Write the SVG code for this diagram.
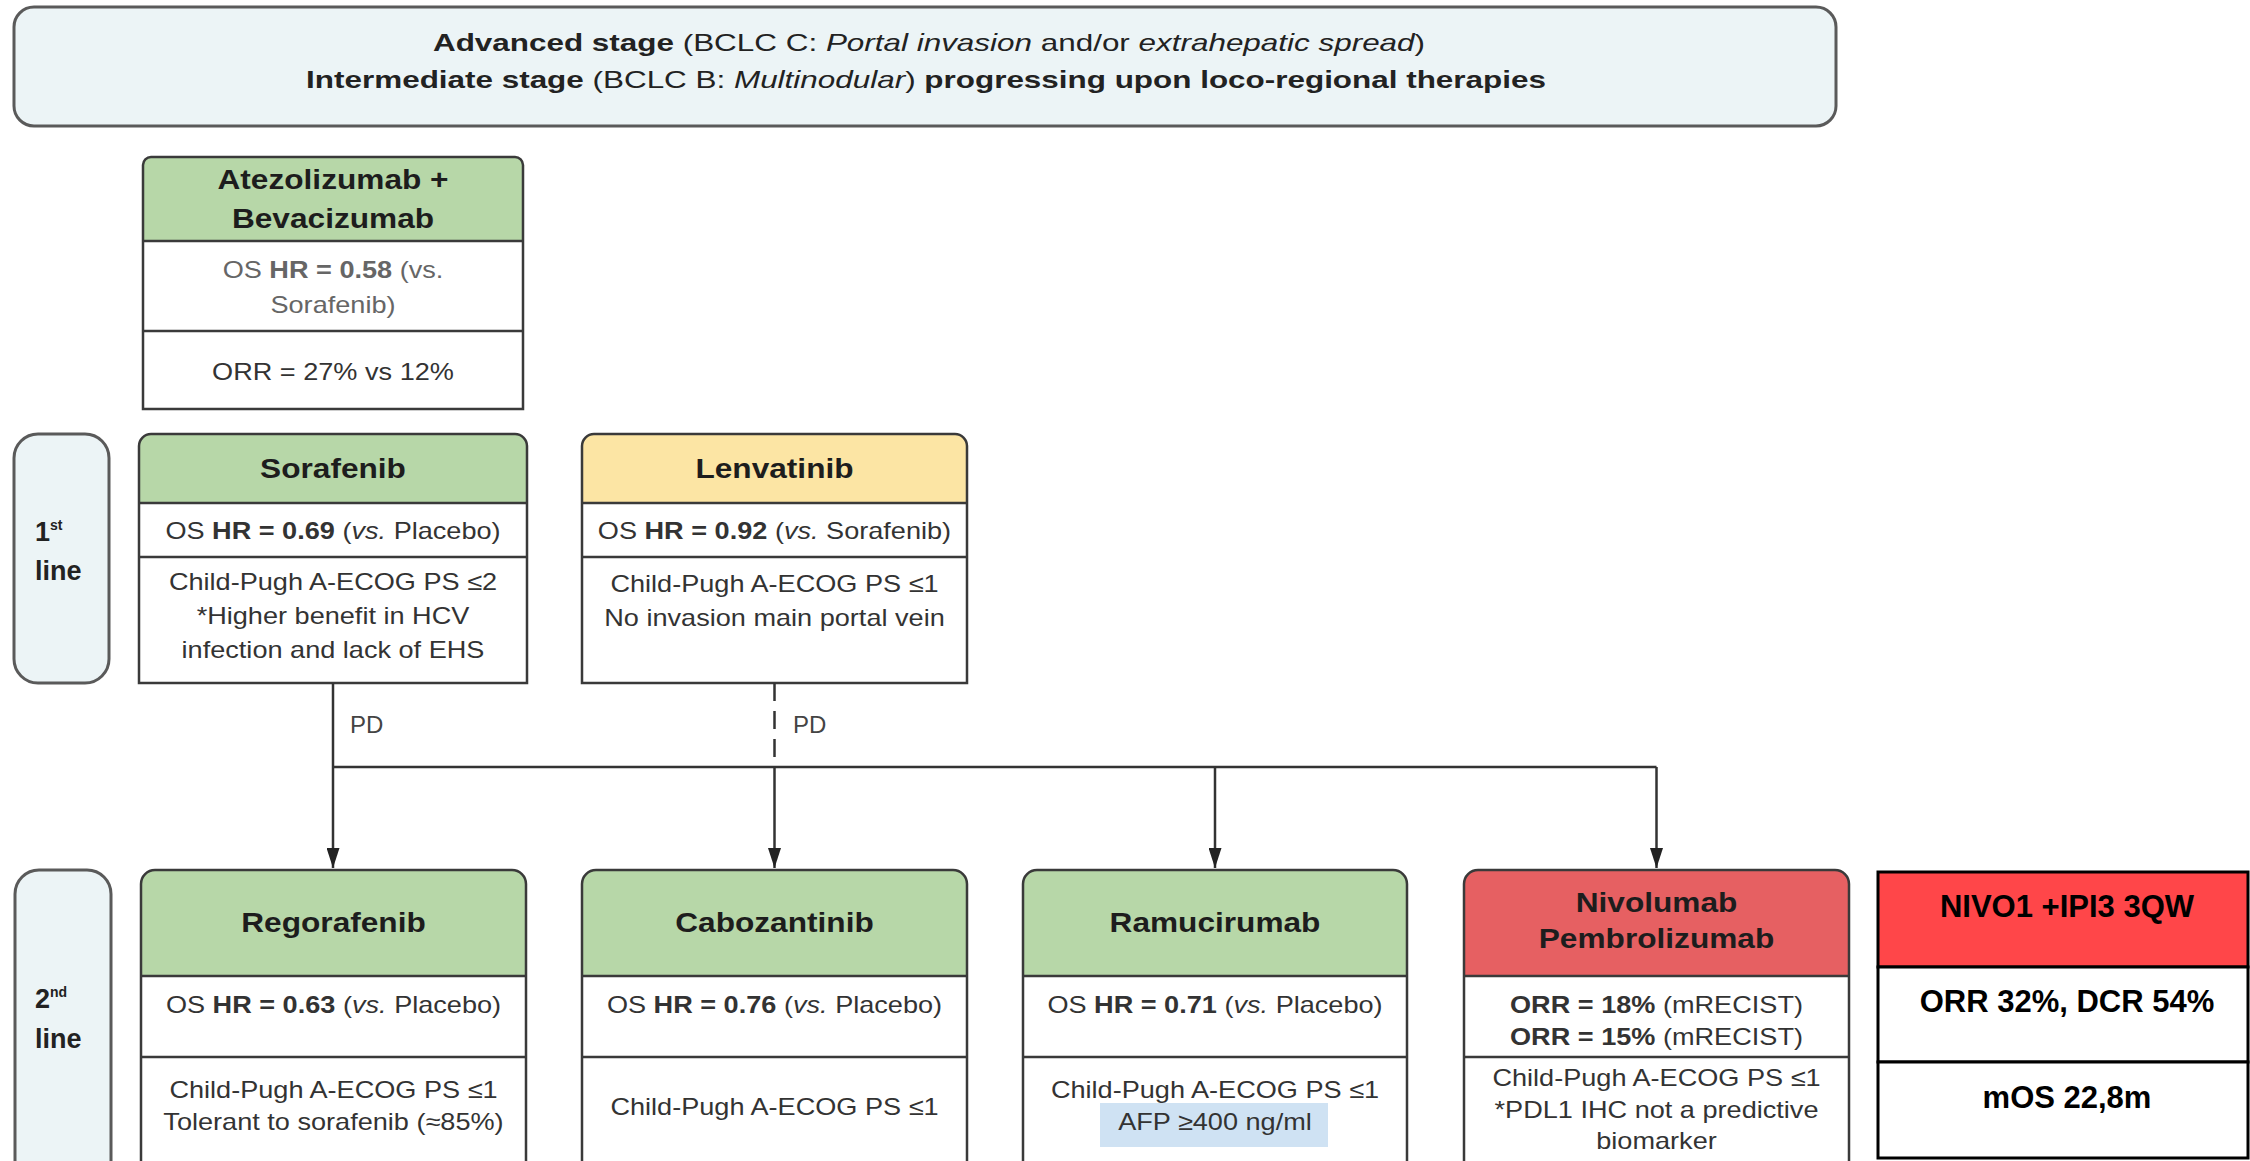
<svg xmlns="http://www.w3.org/2000/svg" width="2250" height="1161" viewBox="0 0 2250 1161">
<style>
text{font-family:"Liberation Sans",Arial,sans-serif}
.banner{fill:#ecf4f6;stroke:#5a5a5a;stroke-width:3}
.lab{fill:#ecf4f6;stroke:#5a5a5a;stroke-width:3}
.box{fill:#fff}
.hg{fill:#b7d7a8}
.hy{fill:#fce5a4}
.hr{fill:#e66062}
.frame{fill:none;stroke:#3a3a3a;stroke-width:2.5}
.div{stroke:#3a3a3a;stroke-width:2.5}
.h{font-weight:bold;font-size:28px;fill:#1d1d1d;text-anchor:middle}
.t{font-size:24px;fill:#333;text-anchor:middle}
.g{fill:#666}
.bt{font-size:24px;fill:#222;text-anchor:middle}
.lt{font-size:27px;font-weight:bold;fill:#222}
.pd{font-size:24px;fill:#444}
.b{font-weight:bold}
.i{font-style:italic}
.conn{stroke:#333;stroke-width:2.5;fill:none}
.tbl{fill:#fff;stroke:#000;stroke-width:3}
.tt{font-size:31px;font-weight:bold;fill:#000;text-anchor:middle}
</style>
<defs>
<marker id="arr" markerUnits="userSpaceOnUse" markerWidth="20" markerHeight="13" refX="20" refY="6.5" orient="auto">
<path d="M0,0 L20,6.5 L0,13 Z" fill="#222"/>
</marker>
</defs>

<g id="banner">
<rect class="banner" x="14" y="7" width="1822" height="119" rx="20"/>
<g transform="translate(929,0) scale(1.31,1)">
<text class="bt" x="0" y="51"><tspan class="b">Advanced stage</tspan> (BCLC C: <tspan class="i">Portal invasion</tspan> and/or <tspan class="i">extrahepatic spread</tspan>)</text>
</g>
<g transform="translate(926,0) scale(1.31,1)">
<text class="bt" x="0" y="88"><tspan class="b">Intermediate stage</tspan> (BCLC B: <tspan class="i">Multinodular</tspan>)<tspan class="b"> progressing upon loco-regional therapies</tspan></text>
</g>
</g>

<g id="label-1st">
<rect class="lab" x="14" y="434" width="95" height="249" rx="24"/>
<text class="lt" x="35" y="541">1<tspan font-size="14" dy="-11">st</tspan></text>
<text class="lt" x="35" y="580">line</text>
</g>

<g id="label-2nd">
<rect class="lab" x="15" y="870" width="96" height="320" rx="24"/>
<text class="lt" x="35" y="1008">2<tspan font-size="14" dy="-11">nd</tspan></text>
<text class="lt" x="35" y="1048">line</text>
</g>

<g id="atezolizumab">
<rect class="box" x="143" y="157" width="380" height="252"/>
<path class="hg" d="M143,241 V165 A8,8 0 0 1 151,157 H515 A8,8 0 0 1 523,165 V241 Z"/>
<line class="div" x1="143" y1="241" x2="523" y2="241"/>
<line class="div" x1="143" y1="331" x2="523" y2="331"/>
<path class="frame" d="M143,409 V165 A8,8 0 0 1 151,157 H515 A8,8 0 0 1 523,165 V409 Z"/>
<g transform="translate(333,0) scale(1.13,1)">
<text class="h" x="0" y="189">Atezolizumab +</text>
<text class="h" x="0" y="228">Bevacizumab</text>
<text class="t g" x="0" y="278" font-size="23">OS <tspan class="b">HR = 0.58</tspan> (vs.</text>
<text class="t g" x="0" y="313" font-size="23">Sorafenib)</text>
<text class="t" x="0" y="380" font-size="22">ORR = 27% vs 12%</text>
</g>
</g>

<g id="sorafenib">
<rect class="box" x="139" y="434" width="388" height="249"/>
<path class="hg" d="M139,503 V446 A12,12 0 0 1 151,434 H515 A12,12 0 0 1 527,446 V503 Z"/>
<line class="div" x1="139" y1="503" x2="527" y2="503"/>
<line class="div" x1="139" y1="557" x2="527" y2="557"/>
<path class="frame" d="M139,683 V446 A12,12 0 0 1 151,434 H515 A12,12 0 0 1 527,446 V683 Z"/>
<g transform="translate(333,0) scale(1.13,1)">
<text class="h" x="0" y="478">Sorafenib</text>
<text class="t" x="0" y="539">OS <tspan class="b">HR = 0.69</tspan> (<tspan class="i">vs.</tspan> Placebo)</text>
<text class="t" x="0" y="590">Child-Pugh A-ECOG PS ≤2</text>
<text class="t" x="0" y="624">*Higher benefit in HCV</text>
<text class="t" x="0" y="658">infection and lack of EHS</text>
</g>
</g>

<g id="lenvatinib">
<rect class="box" x="582" y="434" width="385" height="249"/>
<path class="hy" d="M582,503 V446 A12,12 0 0 1 594,434 H955 A12,12 0 0 1 967,446 V503 Z"/>
<line class="div" x1="582" y1="503" x2="967" y2="503"/>
<line class="div" x1="582" y1="557" x2="967" y2="557"/>
<path class="frame" d="M582,683 V446 A12,12 0 0 1 594,434 H955 A12,12 0 0 1 967,446 V683 Z"/>
<g transform="translate(774.5,0) scale(1.13,1)">
<text class="h" x="0" y="478">Lenvatinib</text>
<text class="t" x="0" y="539">OS <tspan class="b">HR = 0.92</tspan> (<tspan class="i">vs.</tspan> Sorafenib)</text>
<text class="t" x="0" y="592">Child-Pugh A-ECOG PS ≤1</text>
<text class="t" x="0" y="626">No invasion main portal vein</text>
</g>
</g>

<g id="regorafenib">
<rect class="box" x="141" y="870" width="385" height="310"/>
<path class="hg" d="M141,976 V884 A14,14 0 0 1 155,870 H512 A14,14 0 0 1 526,884 V976 Z"/>
<line class="div" x1="141" y1="976" x2="526" y2="976"/>
<line class="div" x1="141" y1="1057" x2="526" y2="1057"/>
<path class="frame" d="M141,1180 V884 A14,14 0 0 1 155,870 H512 A14,14 0 0 1 526,884 V1180"/>
<g transform="translate(333.5,0) scale(1.13,1)">
<text class="h" x="0" y="932">Regorafenib</text>
<text class="t" x="0" y="1013">OS <tspan class="b">HR = 0.63</tspan> (<tspan class="i">vs.</tspan> Placebo)</text>
<text class="t" x="0" y="1098">Child-Pugh A-ECOG PS ≤1</text>
<text class="t" x="0" y="1130">Tolerant to sorafenib (≈85%)</text>
</g>
</g>

<g id="cabozantinib">
<rect class="box" x="582" y="870" width="385" height="310"/>
<path class="hg" d="M582,976 V884 A14,14 0 0 1 596,870 H953 A14,14 0 0 1 967,884 V976 Z"/>
<line class="div" x1="582" y1="976" x2="967" y2="976"/>
<line class="div" x1="582" y1="1057" x2="967" y2="1057"/>
<path class="frame" d="M582,1180 V884 A14,14 0 0 1 596,870 H953 A14,14 0 0 1 967,884 V1180"/>
<g transform="translate(774.5,0) scale(1.13,1)">
<text class="h" x="0" y="932">Cabozantinib</text>
<text class="t" x="0" y="1013">OS <tspan class="b">HR = 0.76</tspan> (<tspan class="i">vs.</tspan> Placebo)</text>
<text class="t" x="0" y="1115">Child-Pugh A-ECOG PS ≤1</text>
</g>
</g>

<g id="ramucirumab">
<rect class="box" x="1023" y="870" width="384" height="310"/>
<path class="hg" d="M1023,976 V884 A14,14 0 0 1 1037,870 H1393 A14,14 0 0 1 1407,884 V976 Z"/>
<line class="div" x1="1023" y1="976" x2="1407" y2="976"/>
<line class="div" x1="1023" y1="1057" x2="1407" y2="1057"/>
<rect x="1100" y="1103" width="228" height="44" fill="#cfe2f3"/>
<path class="frame" d="M1023,1180 V884 A14,14 0 0 1 1037,870 H1393 A14,14 0 0 1 1407,884 V1180"/>
<g transform="translate(1215,0) scale(1.13,1)">
<text class="h" x="0" y="932">Ramucirumab</text>
<text class="t" x="0" y="1013">OS <tspan class="b">HR = 0.71</tspan> (<tspan class="i">vs.</tspan> Placebo)</text>
<text class="t" x="0" y="1098">Child-Pugh A-ECOG PS ≤1</text>
<text class="t" x="0" y="1130">AFP ≥400 ng/ml</text>
</g>
</g>

<g id="nivolumab">
<rect class="box" x="1464" y="870" width="385" height="310"/>
<path class="hr" d="M1464,976 V884 A14,14 0 0 1 1478,870 H1835 A14,14 0 0 1 1849,884 V976 Z"/>
<line class="div" x1="1464" y1="976" x2="1849" y2="976"/>
<line class="div" x1="1464" y1="1057" x2="1849" y2="1057"/>
<path class="frame" d="M1464,1180 V884 A14,14 0 0 1 1478,870 H1835 A14,14 0 0 1 1849,884 V1180"/>
<g transform="translate(1656.5,0) scale(1.13,1)">
<text class="h" x="0" y="912">Nivolumab</text>
<text class="h" x="0" y="948">Pembrolizumab</text>
<text class="t" x="0" y="1013"><tspan class="b">ORR = 18%</tspan> (mRECIST)</text>
<text class="t" x="0" y="1045"><tspan class="b">ORR = 15%</tspan> (mRECIST)</text>
<text class="t" x="0" y="1086">Child-Pugh A-ECOG PS ≤1</text>
<text class="t" x="0" y="1118">*PDL1 IHC not a predictive</text>
<text class="t" x="0" y="1149">biomarker</text>
</g>
</g>

<g id="nivo-ipi-table">
<rect x="1878" y="872" width="370" height="95" fill="#ff4649" stroke="#000" stroke-width="3"/>
<rect class="tbl" x="1878" y="967" width="370" height="95"/>
<rect class="tbl" x="1878" y="1062" width="370" height="96"/>
<text class="tt" x="2067" y="917">NIVO1 +IPI3 3QW</text>
<text class="tt" x="2067" y="1012">ORR 32%, DCR 54%</text>
<text class="tt" x="2067" y="1108">mOS 22,8m</text>
</g>

<g id="connectors">
<line class="conn" x1="333" y1="683" x2="333" y2="868" marker-end="url(#arr)"/>
<line class="conn" x1="774.5" y1="683" x2="774.5" y2="767" stroke-dasharray="18,10"/>
<line class="conn" x1="333" y1="767" x2="1656.5" y2="767" stroke-width="3"/>
<line class="conn" x1="774.5" y1="767" x2="774.5" y2="868" marker-end="url(#arr)"/>
<line class="conn" x1="1215" y1="767" x2="1215" y2="868" marker-end="url(#arr)"/>
<line class="conn" x1="1656.5" y1="767" x2="1656.5" y2="868" marker-end="url(#arr)"/>
<text class="pd" x="350" y="733">PD</text>
<text class="pd" x="793" y="733">PD</text>
</g>
</svg>
